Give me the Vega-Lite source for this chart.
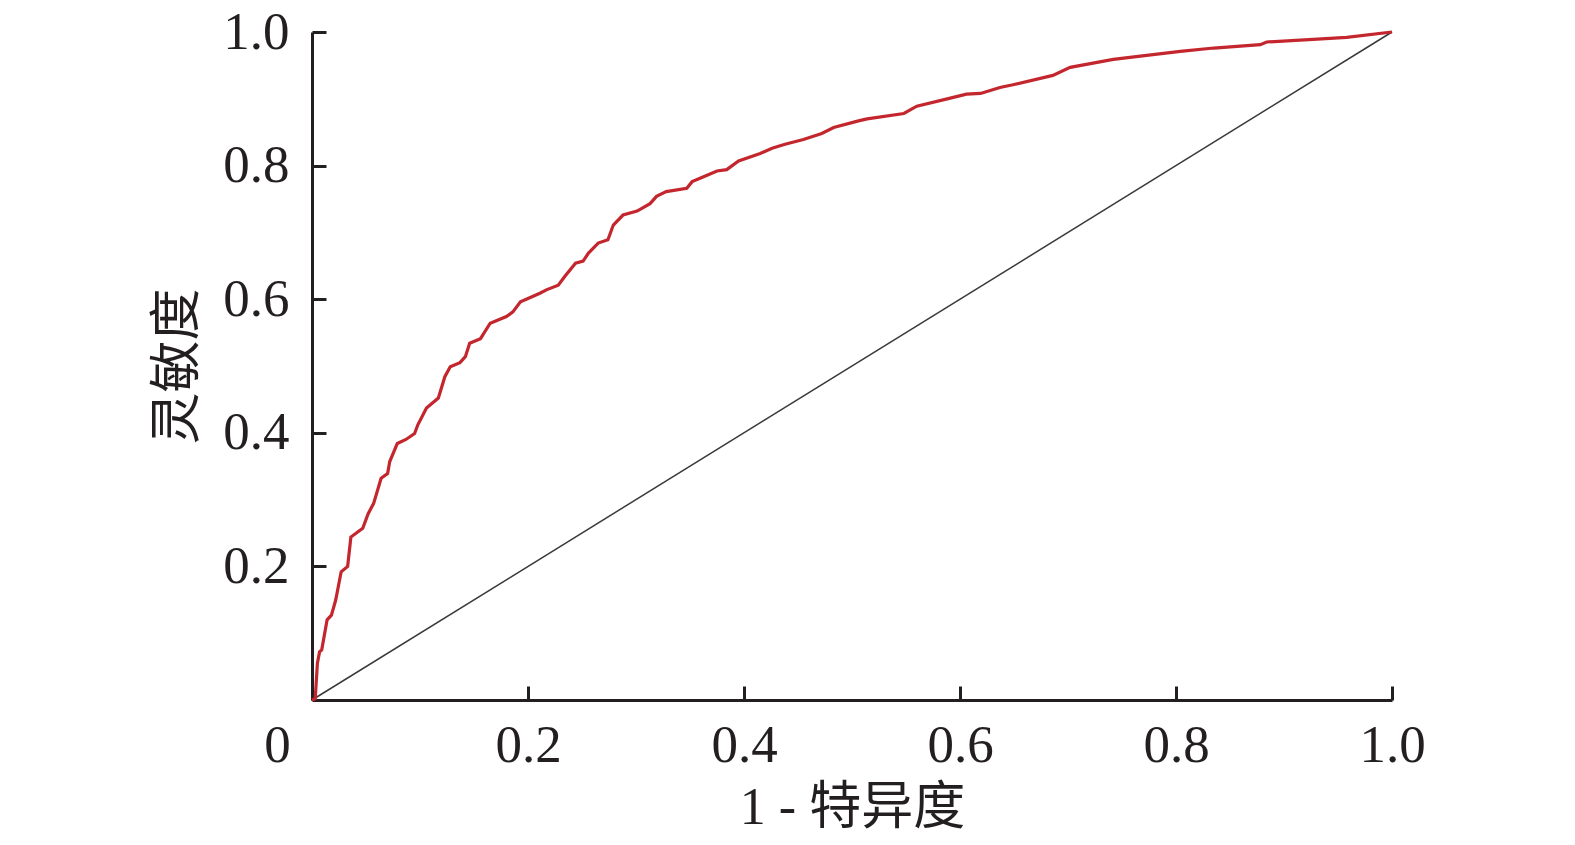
{
  "$schema": "https://vega.github.io/schema/vega-lite/v6.json",
  "width": 1080,
  "height": 668,
  "autosize": "none",
  "padding": {"left": 312, "top": 32, "right": 183, "bottom": 145},
  "background": "white",
  "config": {
    "view": {"stroke": null},
    "axis": {
      "domainColor": "#231f20",
      "domainWidth": 3,
      "tickColor": "#231f20",
      "tickWidth": 3,
      "tickSize": -14,
      "grid": false,
      "labelFont": "Liberation Serif",
      "labelFontSize": 53,
      "labelColor": "#231f20",
      "labelFlush": false,
      "labelOverlap": false,
      "labelBound": false,
      "titleFont": "Liberation Serif, Noto Sans CJK SC",
      "titleFontSize": 52,
      "titleFontWeight": "normal",
      "titleColor": "#231f20"
    }
  },
  "datasets": {
    "diag": [
      {"fpr": 0, "tpr": 0},
      {"fpr": 1, "tpr": 1}
    ],
    "roc": [
      {"fpr": 0, "tpr": 0},
      {"fpr": 0.003, "tpr": 0.002},
      {"fpr": 0.005, "tpr": 0.055},
      {"fpr": 0.007, "tpr": 0.072},
      {"fpr": 0.009, "tpr": 0.075},
      {"fpr": 0.014, "tpr": 0.12},
      {"fpr": 0.018, "tpr": 0.127},
      {"fpr": 0.022, "tpr": 0.15},
      {"fpr": 0.027, "tpr": 0.192},
      {"fpr": 0.033, "tpr": 0.2},
      {"fpr": 0.036, "tpr": 0.244},
      {"fpr": 0.047, "tpr": 0.257},
      {"fpr": 0.052, "tpr": 0.279},
      {"fpr": 0.057, "tpr": 0.294},
      {"fpr": 0.064, "tpr": 0.332},
      {"fpr": 0.07, "tpr": 0.339},
      {"fpr": 0.072, "tpr": 0.357},
      {"fpr": 0.079, "tpr": 0.384},
      {"fpr": 0.087, "tpr": 0.39},
      {"fpr": 0.095, "tpr": 0.399},
      {"fpr": 0.098, "tpr": 0.412},
      {"fpr": 0.106, "tpr": 0.437},
      {"fpr": 0.117, "tpr": 0.452},
      {"fpr": 0.123, "tpr": 0.484},
      {"fpr": 0.128, "tpr": 0.499},
      {"fpr": 0.137, "tpr": 0.505},
      {"fpr": 0.142, "tpr": 0.514},
      {"fpr": 0.146, "tpr": 0.534},
      {"fpr": 0.156, "tpr": 0.541},
      {"fpr": 0.165, "tpr": 0.564},
      {"fpr": 0.18, "tpr": 0.574},
      {"fpr": 0.186, "tpr": 0.581},
      {"fpr": 0.193, "tpr": 0.596},
      {"fpr": 0.2, "tpr": 0.601},
      {"fpr": 0.211, "tpr": 0.609},
      {"fpr": 0.217, "tpr": 0.614},
      {"fpr": 0.228, "tpr": 0.621},
      {"fpr": 0.234, "tpr": 0.634},
      {"fpr": 0.244, "tpr": 0.654},
      {"fpr": 0.251, "tpr": 0.657},
      {"fpr": 0.256, "tpr": 0.669},
      {"fpr": 0.265, "tpr": 0.684},
      {"fpr": 0.274, "tpr": 0.689},
      {"fpr": 0.279, "tpr": 0.711},
      {"fpr": 0.288, "tpr": 0.726},
      {"fpr": 0.301, "tpr": 0.732},
      {"fpr": 0.313, "tpr": 0.743},
      {"fpr": 0.319, "tpr": 0.754},
      {"fpr": 0.328, "tpr": 0.761},
      {"fpr": 0.347, "tpr": 0.766},
      {"fpr": 0.352, "tpr": 0.776},
      {"fpr": 0.362, "tpr": 0.783},
      {"fpr": 0.375, "tpr": 0.792},
      {"fpr": 0.384, "tpr": 0.794},
      {"fpr": 0.395, "tpr": 0.807},
      {"fpr": 0.415, "tpr": 0.818},
      {"fpr": 0.426, "tpr": 0.826},
      {"fpr": 0.438, "tpr": 0.832},
      {"fpr": 0.455, "tpr": 0.839},
      {"fpr": 0.472, "tpr": 0.848},
      {"fpr": 0.483, "tpr": 0.857},
      {"fpr": 0.506, "tpr": 0.867},
      {"fpr": 0.514, "tpr": 0.87},
      {"fpr": 0.548, "tpr": 0.878},
      {"fpr": 0.56, "tpr": 0.889},
      {"fpr": 0.591, "tpr": 0.901},
      {"fpr": 0.606, "tpr": 0.907},
      {"fpr": 0.619, "tpr": 0.908},
      {"fpr": 0.637, "tpr": 0.917},
      {"fpr": 0.649, "tpr": 0.921},
      {"fpr": 0.686, "tpr": 0.935},
      {"fpr": 0.702, "tpr": 0.947},
      {"fpr": 0.742, "tpr": 0.959},
      {"fpr": 0.767, "tpr": 0.964},
      {"fpr": 0.804, "tpr": 0.971},
      {"fpr": 0.835, "tpr": 0.976},
      {"fpr": 0.878, "tpr": 0.981},
      {"fpr": 0.884, "tpr": 0.985},
      {"fpr": 0.927, "tpr": 0.989},
      {"fpr": 0.958, "tpr": 0.992},
      {"fpr": 1, "tpr": 1}
    ]
  },
  "encoding": {
    "x": {
      "field": "fpr",
      "type": "quantitative",
      "scale": {"domain": [0, 1], "nice": false, "zero": false},
      "axis": {
        "values": [0, 0.2, 0.4, 0.6, 0.8, 1],
        "labelExpr": "datum.value == 0 ? '0' : format(datum.value, '.1f')",
        "labelOffset": {"condition": {"test": "datum.value == 0", "value": -35}, "value": 0},
        "labelPadding": 33,
        "title": "1 - 特异度",
        "titlePadding": 10
      }
    },
    "y": {
      "field": "tpr",
      "type": "quantitative",
      "scale": {"domain": [0, 1], "nice": false, "zero": false},
      "axis": {
        "values": [0.2, 0.4, 0.6, 0.8, 1],
        "labelExpr": "format(datum.value, '.1f')",
        "labelPadding": 37,
        "title": "灵敏度",
        "titlePadding": 18
      }
    }
  },
  "layer": [
    {
      "data": {"name": "diag"},
      "mark": {"type": "line", "color": "#3a3a3a", "strokeWidth": 1.5}
    },
    {
      "data": {"name": "roc"},
      "mark": {"type": "line", "color": "#c4262e", "strokeWidth": 3.2}
    }
  ]
}
